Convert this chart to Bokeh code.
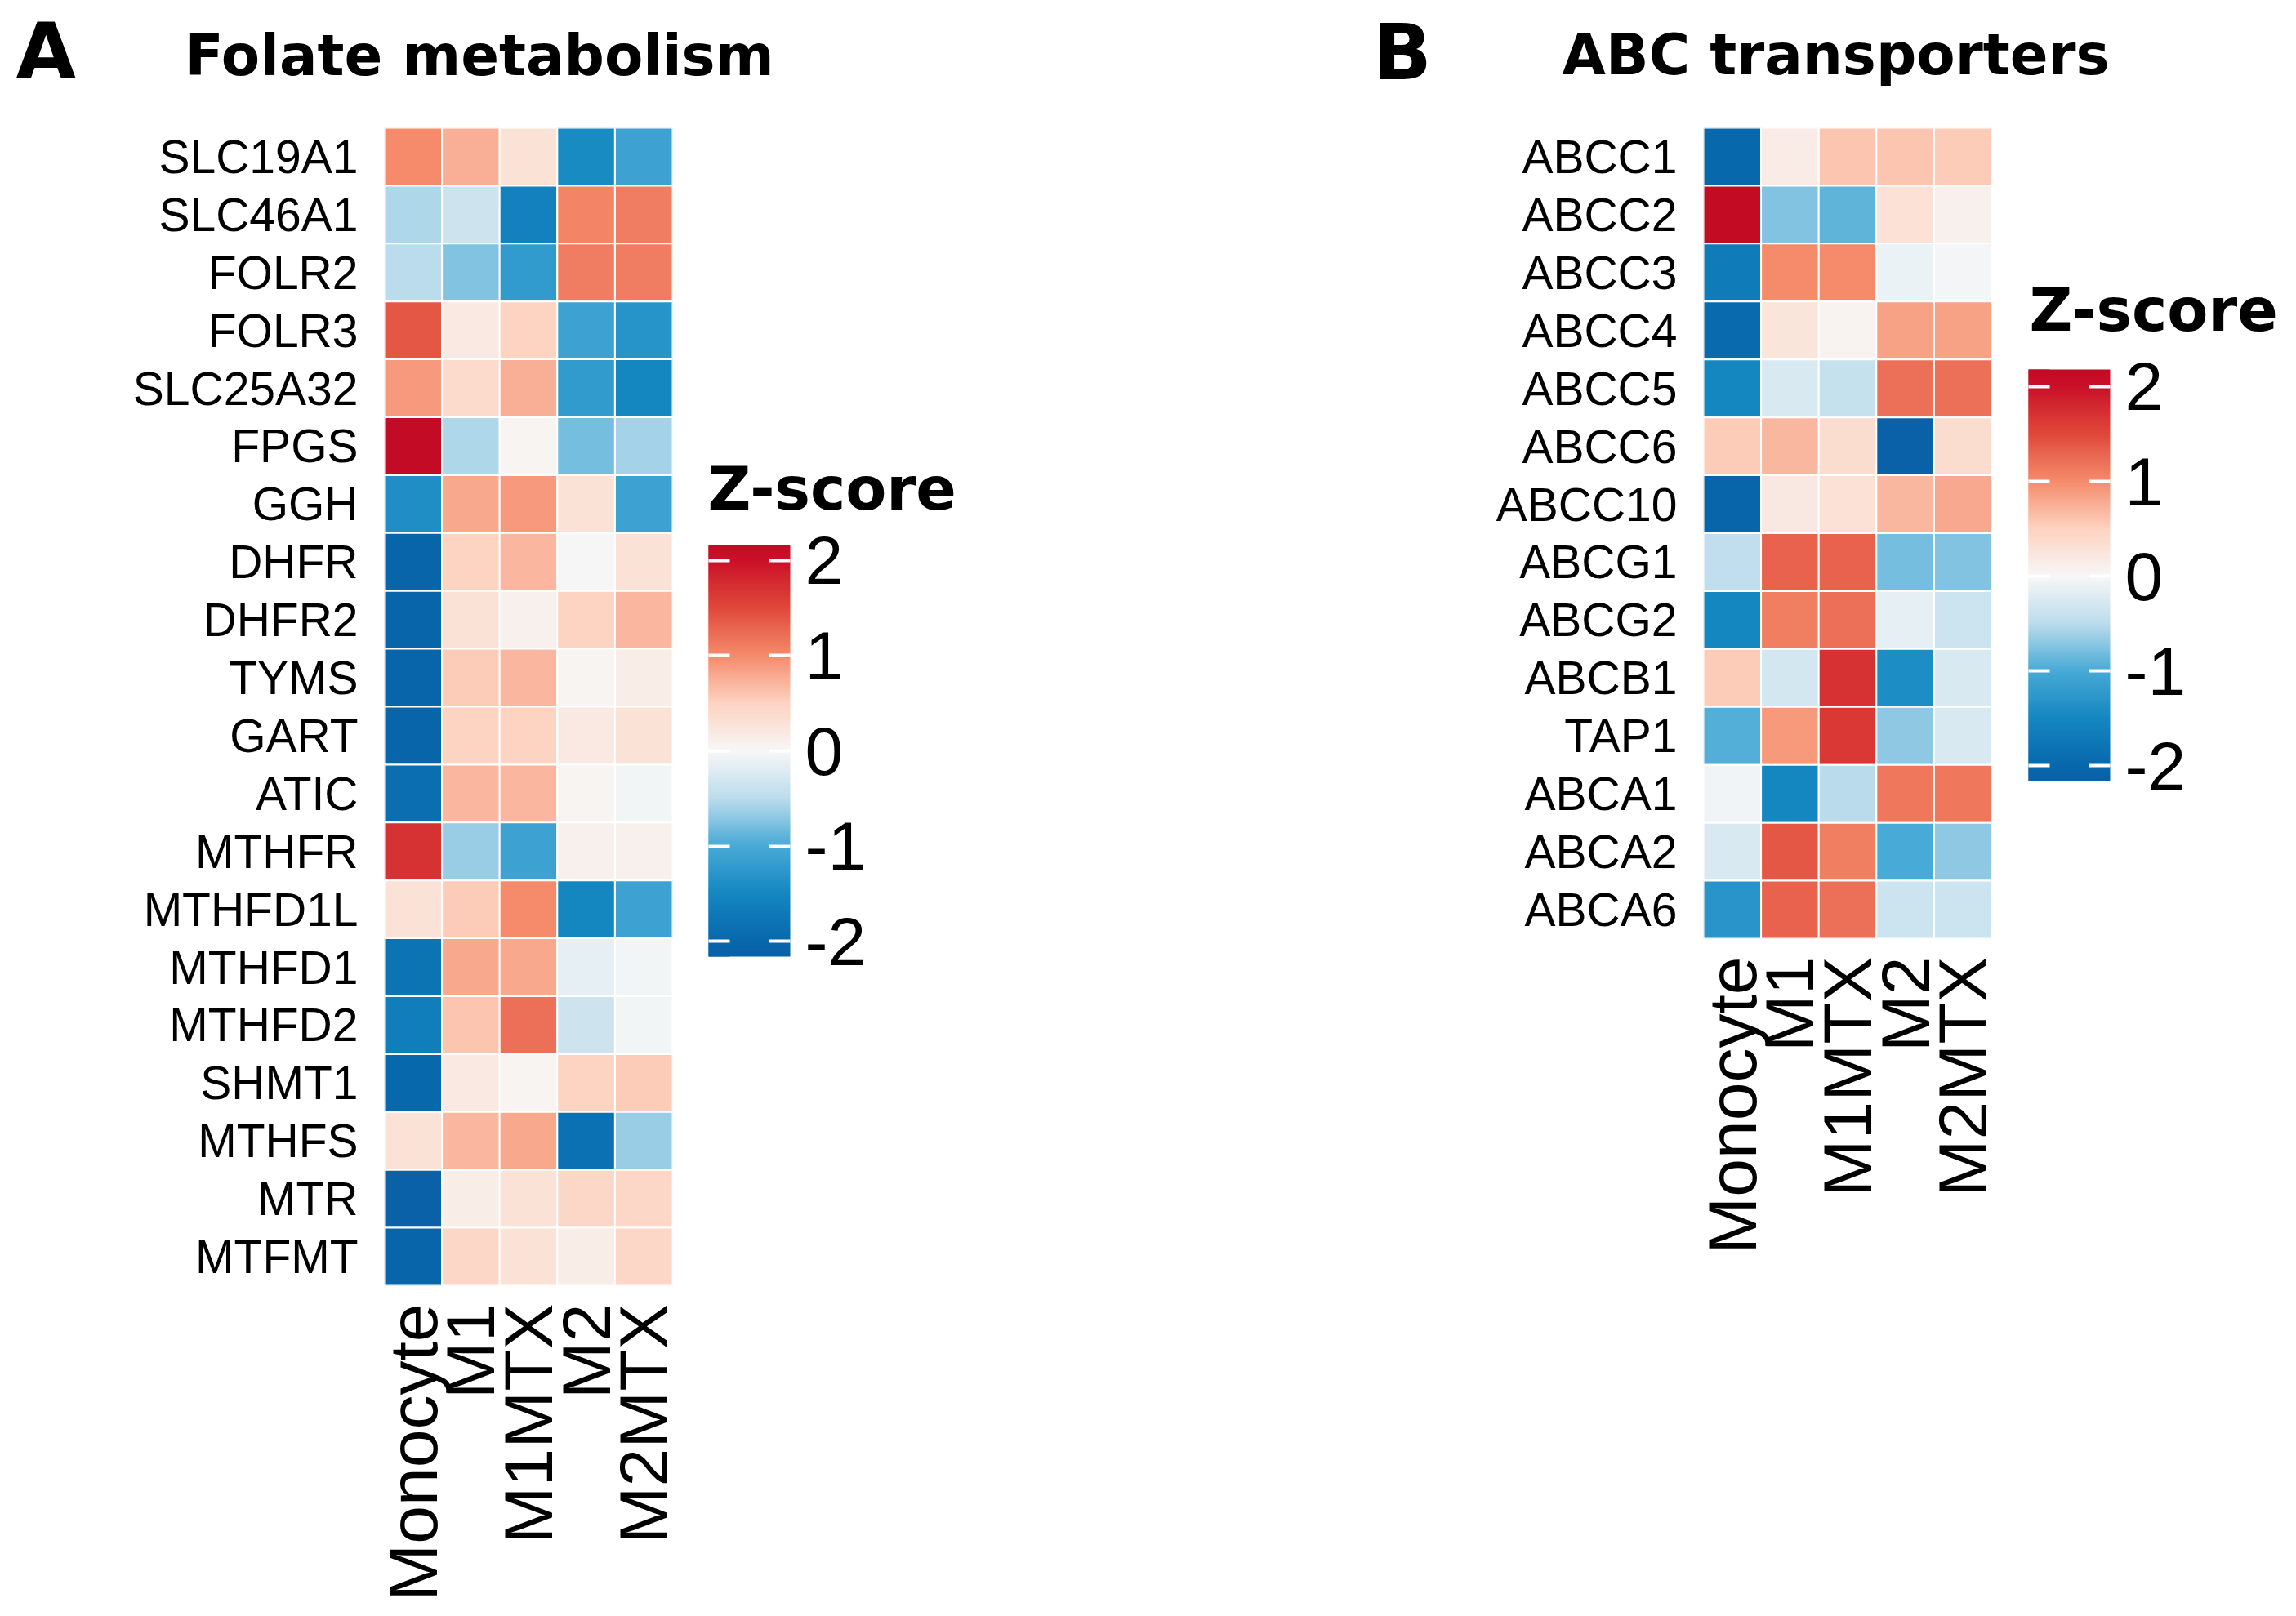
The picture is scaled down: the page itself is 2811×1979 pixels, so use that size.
import numpy as np
from bokeh.plotting import figure
from bokeh.models import ColumnDataSource, LinearColorMapper, ColorBar, FixedTicker, Label, FactorRange
from bokeh.layouts import row
from bokeh.embed import file_html
from bokeh.resources import INLINE

samples = ["Monocyte", "M1", "M1MTX", "M2", "M2MTX"]

# Panel A: Folate metabolism
genes_a = ["SLC19A1", "SLC46A1", "FOLR2", "FOLR3", "SLC25A32", "FPGS", "GGH", "DHFR",
           "DHFR2", "TYMS", "GART", "ATIC", "MTHFR", "MTHFD1L", "MTHFD1", "MTHFD2",
           "SHMT1", "MTHFS", "MTR", "MTFMT"]
a_monocyte = [1.0, -0.55, -0.5, 1.4, 0.9, 2.16, -1.4, -2.05, -2.05, -2.05, -2.05, -1.9, 1.7, 0.3, -1.8, -1.65, -2.0, 0.3, -2.16, -2.05]
a_m1 = [0.75, -0.35, -0.75, 0.2, 0.4, -0.55, 0.8, 0.5, 0.3, 0.55, 0.5, 0.7, -0.65, 0.55, 0.8, 0.6, 0.2, 0.7, 0.15, 0.45]
a_m1mtx = [0.3, -1.6, -1.2, 0.5, 0.75, 0.05, 0.9, 0.7, 0.1, 0.7, 0.5, 0.7, -1.1, 1.0, 0.8, 1.2, 0.05, 0.8, 0.3, 0.3]
a_m2 = [-1.45, 1.05, 1.1, -1.1, -1.2, -0.8, 0.3, 0.0, 0.5, 0.05, 0.2, 0.05, 0.1, -1.5, -0.15, -0.35, 0.5, -1.85, 0.45, 0.15]
a_m2mtx = [-1.1, 1.1, 1.1, -1.3, -1.5, -0.6, -1.1, 0.3, 0.7, 0.15, 0.3, -0.05, 0.1, -1.1, -0.05, -0.05, 0.55, -0.65, 0.45, 0.45]

# Panel B: ABC transporters
genes_b = ["ABCC1", "ABCC2", "ABCC3", "ABCC4", "ABCC5", "ABCC6", "ABCC10", "ABCG1",
           "ABCG2", "ABCB1", "TAP1", "ABCA1", "ABCA2", "ABCA6"]
b_monocyte = [-2.0, 2.18, -1.7, -1.95, -1.5, 0.55, -2.05, -0.45, -1.5, 0.55, -0.95, -0.05, -0.25, -1.3]
b_m1 = [0.15, -0.75, 1.0, 0.25, -0.25, 0.7, 0.2, 1.3, 1.1, -0.3, 0.9, -1.5, 1.4, 1.3]
b_m1mtx = [0.6, -0.9, 1.0, 0.05, -0.4, 0.35, 0.3, 1.3, 1.2, 1.7, 1.65, -0.5, 1.1, 1.2]
b_m2 = [0.6, 0.3, -0.1, 0.85, 1.2, -2.16, 0.7, -0.8, -0.15, -1.4, -0.7, 1.15, -1.0, -0.35]
b_m2mtx = [0.55, 0.1, -0.03, 0.85, 1.2, 0.35, 0.8, -0.75, -0.35, -0.25, -0.25, 1.15, -0.7, -0.35]

ticks = [-2, -1, 0, 1, 2]
tick_labels = ["-2", "-1", "0", "1", "2"]
legend_title = "Z-score"

# colour gradient (style)
stop_vals = [-2.2, -2.0, -1.5, -1.0, -0.5, 0.0, 0.5, 1.0, 1.5, 2.0, 2.2]
stop_cols = ["#0A5FA6", "#0868AC", "#1487C1", "#48AAD6", "#BBDCEC", "#F7F7F7",
             "#FDD3C1", "#F58C6C", "#E0493A", "#CA1128", "#C30A24"]


def hex2rgb(h):
    return [int(h[i:i + 2], 16) for i in (1, 3, 5)]


def make_palette(low, high, n=256):
    rgb = np.array([hex2rgb(c) for c in stop_cols], dtype=float)
    out = []
    for v in np.linspace(low, high, n):
        c = [int(round(np.interp(v, stop_vals, rgb[:, k]))) for k in range(3)]
        out.append("#%02x%02x%02x" % tuple(c))
    return out


CELL_H = 70.9
FW = 353
CB_W = 100
CB_H = 504
TICK_LEN = 26


def make_panel(genes, cols, letter, title, frame_left, frame_top, total_w, total_h,
               letter_dx, letter_dy, title_dx, title_dy, cb_x, cb_y, zs_x, zs_y):
    n = len(genes)
    fh = int(round(n * CELL_H))
    xs, ys, zs = [], [], []
    for s, col in zip(samples, cols):
        for g, v in zip(genes, col):
            xs.append(s); ys.append(g); zs.append(v)
    low, high = min(zs), max(zs)
    mapper = LinearColorMapper(palette=make_palette(low, high), low=low, high=high)
    src = ColumnDataSource(dict(sample=xs, gene=ys, z=zs))
    p = figure(x_range=FactorRange(*samples), y_range=FactorRange(*list(reversed(genes))),
               frame_width=FW, frame_height=fh,
               min_border_left=frame_left, min_border_right=total_w - frame_left - FW,
               min_border_top=frame_top, min_border_bottom=total_h - frame_top - fh,
               output_backend="svg", toolbar_location=None, tools="")
    p.rect(x="sample", y="gene", width=1, height=1, source=src,
           fill_color={"field": "z", "transform": mapper}, line_color="white", line_width=2)
    p.grid.grid_line_color = None
    p.outline_line_color = None
    p.axis.axis_line_color = None
    p.axis.major_tick_line_color = None
    p.axis.minor_tick_line_color = None
    p.axis.major_label_text_color = "black"
    p.axis.major_label_text_font = "Liberation Sans"
    p.yaxis.major_label_text_font_size = "57px"
    p.yaxis.major_label_standoff = 26
    p.xaxis.major_label_text_font_size = "84px"
    p.xaxis.major_label_orientation = np.pi / 2
    p.xaxis.major_label_standoff = 16

    cb = ColorBar(color_mapper=mapper, ticker=FixedTicker(ticks=ticks),
                  major_label_overrides=dict(zip(ticks, tick_labels)),
                  width=CB_W, height=CB_H, title=None,
                  major_label_text_font="Liberation Sans",
                  major_label_text_font_size="84px",
                  major_label_text_color="black",
                  major_tick_line_color="white", major_tick_line_width=4,
                  major_tick_in=TICK_LEN, major_tick_out=0,
                  minor_tick_line_color=None,
                  label_standoff=18, bar_line_color=None, border_line_color=None,
                  background_fill_color=None, padding=0, margin=0,
                  location=(cb_x, cb_y))
    p.add_layout(cb)
    # narrow strip over the left edge of the bar, carrying the left-hand tick marks
    cb_left = ColorBar(color_mapper=mapper, ticker=FixedTicker(ticks=ticks),
                       width=TICK_LEN, height=CB_H, title=None,
                       major_label_text_alpha=0, major_label_text_font_size="1px",
                       major_tick_line_color="white", major_tick_line_width=4,
                       major_tick_in=TICK_LEN, major_tick_out=0,
                       minor_tick_line_color=None,
                       bar_line_color=None, border_line_color=None,
                       background_fill_color=None, padding=0, margin=0,
                       location=(cb_x, cb_y))
    p.add_layout(cb_left)

    p.add_layout(Label(x=zs_x, y=zs_y, x_units="screen", y_units="screen",
                       text=legend_title, text_font="DejaVu Sans", text_font_style="bold",
                       text_font_size="73px", text_color="black",
                       text_baseline="alphabetic"), "right")
    p.add_layout(Label(x=title_dx, y=title_dy, x_units="screen", y_units="screen",
                       text=title, text_font="DejaVu Sans", text_font_style="bold",
                       text_font_size="69px", text_color="black",
                       text_baseline="alphabetic"), "above")
    p.add_layout(Label(x=letter_dx, y=fh + letter_dy, x_units="screen", y_units="screen",
                       text=letter, text_font="DejaVu Sans", text_font_style="bold",
                       text_font_size="95px", text_color="black",
                       text_baseline="alphabetic"), "left")
    return p


TOTAL_H = 1971
pa = make_panel(genes_a, [a_monocyte, a_m1, a_m1mtx, a_m2, a_m2mtx], "A", "Folate metabolism",
                frame_left=470, frame_top=156, total_w=1660, total_h=TOTAL_H,
                letter_dx=-66, letter_dy=94, title_dx=-244, title_dy=89,
                cb_x=FW + 44, cb_y=403, zs_x=43, zs_y=976)
pb = make_panel(genes_b, [b_monocyte, b_m1, b_m1mtx, b_m2, b_m2mtx], "B", "ABC transporters",
                frame_left=425, frame_top=154, total_w=1145, total_h=TOTAL_H,
                letter_dx=-76, letter_dy=93, title_dx=-173, title_dy=90,
                cb_x=FW + 45, cb_y=193, zs_x=46, zs_y=770)

open("out.html", "w").write(file_html(row(pa, pb), INLINE))
